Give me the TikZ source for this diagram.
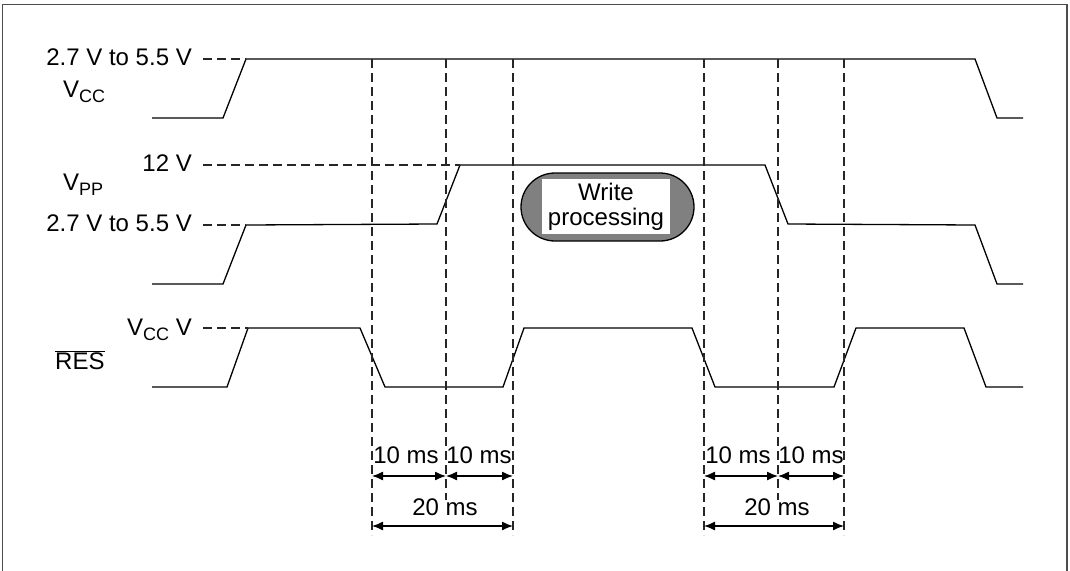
\documentclass[tikz,border=0pt]{standalone}
\usepackage{fontspec}
\setmainfont{Liberation Sans}
\usetikzlibrary{arrows.meta}
\newcommand{\mysub}[1]{\raisebox{-5pt}{\fontsize{18}{18}\selectfont #1}}
\begin{document}
\begin{tikzpicture}[x=1pt,y=-1pt,
  wave/.style={line width=1.3pt, line join=miter},
  guide/.style={line width=1.3pt, dash pattern=on 9pt off 5pt, draw=black!85},
  lbl/.style={inner sep=0pt, font=\fontsize{24}{25}\selectfont},
  dim/.style={line width=1.3pt, {Latex[length=11pt,width=9pt]}-{Latex[length=11pt,width=9pt]}},
]
\useasboundingbox (0,0) rectangle (1070,570);
\fill[white] (0,0) rectangle (1070,570);
\draw[line width=1.5pt, draw=black!70] (2.5,600) -- (2.5,4.5) -- (1067,4.5) -- (1067,600);

% waveforms
\draw[wave] (152,118) -- (223,118) -- (246,59) -- (975,59) -- (997,118) -- (1023,118);
\draw[wave] (152,284) -- (223,284) -- (246,225) -- (437,224) -- (460,165) -- (765,165) -- (788,224) -- (975,225) -- (997,284) -- (1023,284);
\draw[wave] (152,387) -- (227,387) -- (248,328) -- (360,328) -- (385,387) -- (503,387) -- (524,328) -- (692,328) -- (715,387) -- (834,387) -- (856,328) -- (964,328) -- (986,387) -- (1023,387);

% level guides
\draw[guide] (203,59) -- (246,59);
\draw[guide] (203,165) -- (460,165);
\draw[guide] (203,225) -- (246,225);
\draw[guide] (203,328) -- (248,328);

% vertical guides
\foreach \x/\n in {372/a,513/c,704/d,844/f}{
  \coordinate (t\n) at (\x,59);
  \coordinate (b\n) at (\x,535);
  \draw[guide] (t\n) -- (b\n);
}
\foreach \x/\n in {446/b,778/e}{
  \coordinate (t\n) at (\x,59);
  \coordinate (b\n) at (\x,500);
  \draw[guide] (t\n) -- (b\n);
}

% left labels
\node[lbl, anchor=base east] (l1) at (192,65) {2.7 V to 5.5 V};
\node[lbl, anchor=base west] (vcc) at (63,97) {V\mysub{CC}};
\node[lbl, anchor=base east] (l2) at (192,171) {12 V};
\node[lbl, anchor=base west] (vpp) at (63,190) {V\mysub{PP}};
\node[lbl, anchor=base east] (l3) at (192,231) {2.7 V to 5.5 V};
\node[lbl, anchor=base east] (l4) at (192,335) {V\mysub{CC} V};
\node[lbl, anchor=base west] (res) at (55,369) {$\overline{\hbox{RES}}$};

% write processing
\draw[line width=1.3pt, fill=black!50] (521,173) [rounded corners=34pt] rectangle (694,241);
\fill[white] (542,179) rectangle (670,234);
\node[lbl, align=center] (wp) at (606,207) {Write\\processing};

% timing arrows
\coordinate (a1) at (372,476); \coordinate (b1) at (446,476); \coordinate (c1) at (513,476);
\coordinate (a2) at (372,526); \coordinate (c2) at (513,526);
\coordinate (d1) at (704,476); \coordinate (e1) at (778,476); \coordinate (f1) at (844,476);
\coordinate (d2) at (704,526); \coordinate (f2) at (844,526);
\draw[dim] (a1) -- (b1);
\draw[dim] (b1) -- (c1);
\draw[dim] (a2) -- (c2);
\draw[dim] (d1) -- (e1);
\draw[dim] (e1) -- (f1);
\draw[dim] (d2) -- (f2);

\node[lbl, anchor=base] (m1) at (406,463) {10 ms};
\node[lbl, anchor=base] (m2) at (479,463) {10 ms};
\node[lbl, anchor=base] (m3) at (445,515) {20 ms};
\node[lbl, anchor=base] (m4) at (738,463) {10 ms};
\node[lbl, anchor=base] (m5) at (811,463) {10 ms};
\node[lbl, anchor=base] (m6) at (777,515) {20 ms};
\end{tikzpicture}
\end{document}
